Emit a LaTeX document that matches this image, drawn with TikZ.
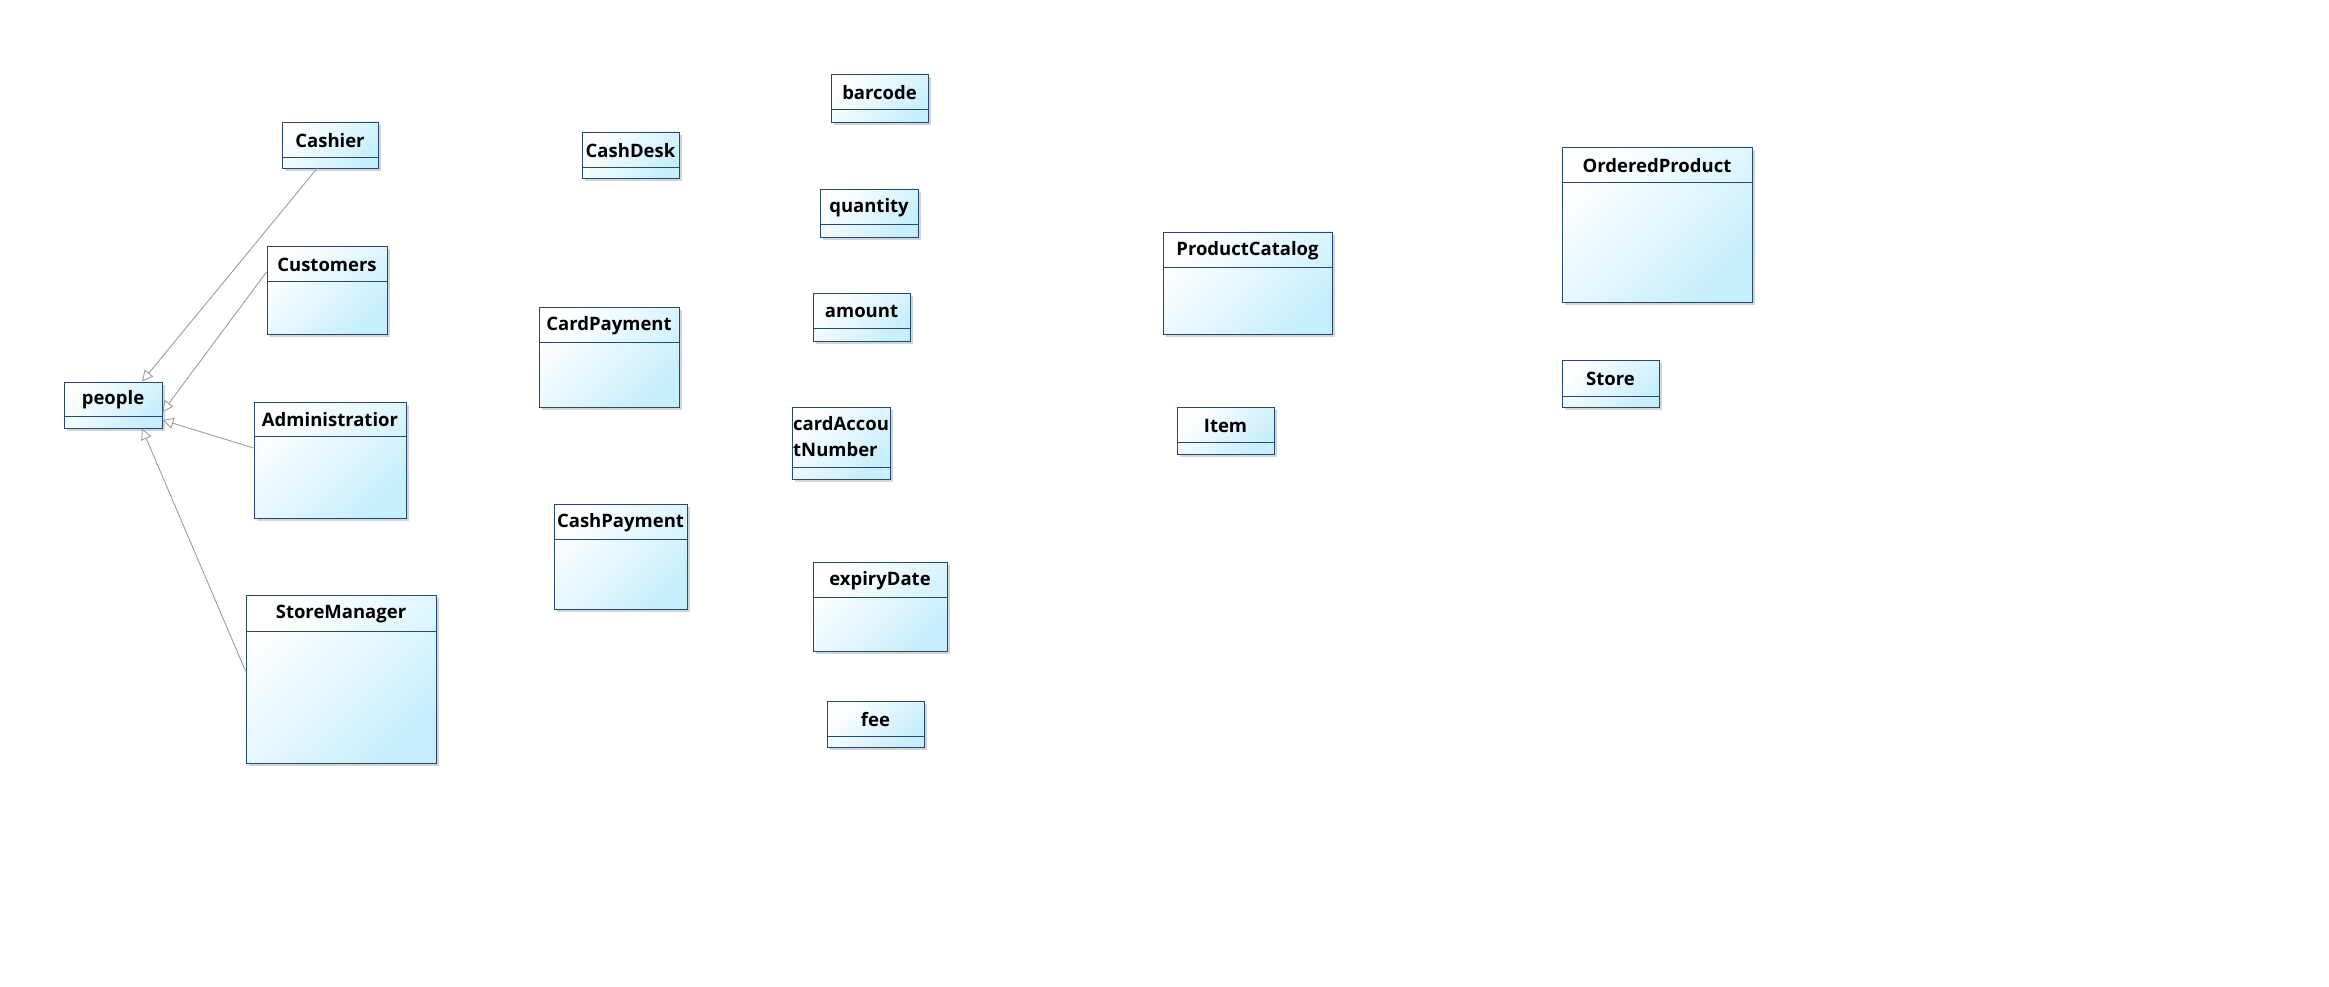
\documentclass[tikz,border=0pt]{standalone}
\usepackage{fontspec}
\setmainfont{Open Sans}
\usetikzlibrary{arrows.meta,fit,calc}
\definecolor{clsborder}{HTML}{27496F}
\definecolor{clsfill}{HTML}{C6EEFC}
\definecolor{conn}{HTML}{9C9C9C}
\definecolor{shadowc}{HTML}{D4D4D4}
\tikzset{
  clsbox/.style={draw=clsborder, line width=0.95pt, inner sep=0pt, left color=white, right color=clsfill, shading angle=45},
  clsdiv/.style={draw=clsborder, line width=0.95pt},
  clstitle/.style={font=\bfseries\fontsize{18.5}{22}\selectfont, text=black, inner sep=0pt},
  gen/.style={draw=conn, line width=0.9pt, -{Triangle[open, length=11pt, width=11pt, fill=white]}},
}
\newcommand\umlcls[7]{%
  \fill[shadowc] (#2+3,#3+3) rectangle (#4+3,#5+3);
  \node[clsbox, fit={(#2,#3) (#4,#5)}] (#1) {};
  \draw[clsdiv] (#2,#6) -- (#4,#6);
  \node[clstitle] at ($(#2,#3)!0.5!(#4,#6)+(0,1)$) {#7};
}
\begin{document}
\begin{tikzpicture}[x=1pt,y=-1pt]
\useasboundingbox (0,0) rectangle (2329,987);
\umlcls{cashier}{282}{122}{378}{168}{157}{Cashier}
\umlcls{customers}{267}{246}{387}{334}{281}{Customers}
\umlcls{people}{64}{382}{162}{428}{416}{people}
\umlcls{admin}{254}{402}{406}{518}{436}{Administratior}
\umlcls{manager}{246}{595}{436}{763}{631}{StoreManager}
\umlcls{cashdesk}{582}{132}{679}{178}{167}{CashDesk}
\umlcls{cardpay}{539}{307}{679}{407}{342}{CardPayment}
\umlcls{cashpay}{554}{504}{687}{609}{539}{CashPayment}
\umlcls{barcode}{831}{74}{928}{122}{109}{barcode}
\umlcls{quantity}{820}{189}{918}{237}{224}{quantity}
\umlcls{amount}{813}{293}{910}{341}{328}{amount}
% cardAccountNumber
\fill[shadowc] (795,410) rectangle (893,482);
\node[clsbox, fit={(792,407) (890,479)}] (cardacc) {};
\draw[clsdiv] (792,467) -- (890,467);
\node[clstitle, anchor=north west, align=left, font=\bfseries\fontsize{18.5}{26}\selectfont] at (793,416) {cardAccou\\tNumber};
\umlcls{expiry}{813}{562}{947}{651}{597}{expiryDate}
\umlcls{fee}{827}{701}{924}{747}{736}{fee}
\umlcls{catalog}{1163}{232}{1332}{334}{267}{ProductCatalog}
\umlcls{item}{1177}{407}{1274}{454}{442}{Item}
\umlcls{ordered}{1562}{147}{1752}{302}{182}{OrderedProduct}
\umlcls{store}{1562}{360}{1659}{407}{396}{Store}
% generalizations
\draw[gen] ([xshift=-13pt]cashier.south) -- ([xshift=29pt]people.north);
\draw[gen] ([yshift=18pt]customers.west) -- ([yshift=-7pt]people.east);
\draw[gen] ([yshift=12pt]admin.west) -- ([yshift=-15pt]people.east);
\draw[gen] ([yshift=8pt]manager.west) -- ([xshift=29pt]people.south);
\end{tikzpicture}
\end{document}
